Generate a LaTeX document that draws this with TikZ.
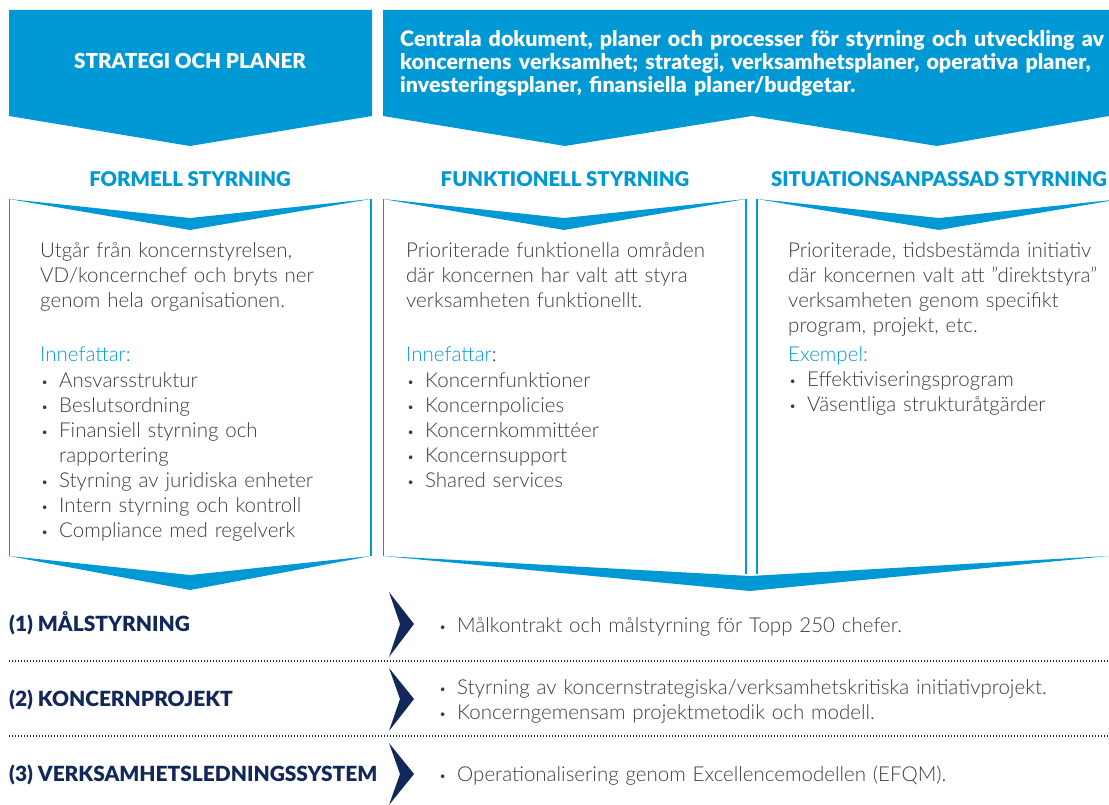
\documentclass[tikz,border=0pt]{standalone}
\usepackage{fontspec}
\setmainfont{Lato}
\newfontfamily\lightfont{Lato Light}
\newfontfamily\heavyfont{Lato Black}
\definecolor{mainblue}{HTML}{0099D5}
\definecolor{darknavy}{HTML}{13285A}
\definecolor{bodygray}{HTML}{3C3C3C}
\newcommand{\blt}{\makebox[19pt][l]{\hspace{1pt}\raisebox{1pt}{\fontsize{12.5}{12}\selectfont\textbullet}}}
\tikzset{
  bandfill/.style={fill=mainblue},
  colline/.style={draw=mainblue, line width=1.5pt},
  banntxt/.style={font=\heavyfont\fontsize{20.6}{23}\selectfont, text=white, inner sep=0pt},
  headtxt/.style={font=\heavyfont\fontsize{20.3}{23}\selectfont, text=mainblue, inner sep=0pt, anchor=base},
  bodytxt/.style={font=\lightfont\fontsize{20.5}{25}\selectfont, text=bodygray, align=left, text width=340pt, anchor=base west, inner sep=0pt},
  rowlbl/.style={font=\heavyfont\fontsize{20.9}{23}\selectfont, text=darknavy, anchor=base west, inner sep=0pt},
  rowtxt/.style={bodytxt, text width=650pt},
  sepline/.style={draw=darknavy, line width=1.2pt, dash pattern=on 1.2pt off 1.8pt},
  arrowfill/.style={fill=darknavy}
}
\begin{document}
\begin{tikzpicture}[x=1pt,y=-1pt]
\useasboundingbox (0,0) rectangle (1109,805);
% top banners
\fill[bandfill] (9,10) -- (372,10) -- (372,116) -- (190,146) -- (9,116) -- cycle;
\fill[bandfill] (383,10) -- (1109,10) -- (1109,116) -- (937,146) -- (752,116) -- (565,146) -- (383,116) -- cycle;
\node[banntxt, anchor=base] (strat) at (190,69) {STRATEGI OCH PLANER};
\node[banntxt, font=\heavyfont\fontsize{21.4}{23}\selectfont, anchor=base west, align=left, text width=720pt] (central) at (400,47) {Centrala dokument, planer och processer för styrning och utveckling av\\ koncernens verksamhet; strategi, verksamhetsplaner, operativa planer,\\ investeringsplaner, finansiella planer/budgetar.};
% column headers
\node[headtxt] (formell) at (190,187) {FORMELL STYRNING};
\node[headtxt] (funk) at (565,187) {FUNKTIONELL STYRNING};
\node[headtxt] (situ) at (939,187) {SITUATIONSANPASSAD STYRNING};
% column frames
\draw[colline] (9.5,199) -- (9.5,556);
\draw[colline] (371,199) -- (371,556);
\draw[colline] (383.5,199) -- (383.5,556);
\draw[colline] (746,199) -- (746,574);
\draw[colline] (757,199) -- (757,574);
\fill[bandfill] (9,199) -- (190,218) -- (371,199) -- (190,230) -- cycle;
\fill[bandfill] (383,199) -- (564,218) -- (746,199) -- (564,230) -- cycle;
\fill[bandfill] (757,199) -- (939,218) -- (1109,200.3) -- (1109,201) -- (939,230) -- cycle;
\fill[bandfill] (9,556) -- (190,575) -- (371,556) -- (190,590) -- cycle;
\fill[bandfill] (383,556) -- (750,576) -- (1109,556) -- (750,591) -- cycle;
% column texts
\node[bodytxt] (formtxt) at (40,258) {Utgår från koncernstyrelsen,\\ VD/koncernchef och bryts ner\\ genom hela organisationen.\\[29pt]
  \textcolor{mainblue}{Innefattar:}\\[1pt]
  \blt Ansvarsstruktur\\ \blt Beslutsordning\\ \blt Finansiell styrning och\\ \hspace*{19pt}rapportering\\
  \blt Styrning av juridiska enheter\\ \blt Intern styrning och kontroll\\ \blt Compliance med regelverk};
\node[bodytxt] (funktxt) at (406,258) {Prioriterade funktionella områden\\ där koncernen har valt att styra\\ verksamheten funktionellt.\\[29pt]
  \textcolor{mainblue}{Innefattar}:\\[1pt]
  \blt Koncernfunktioner\\ \blt Koncernpolicies\\ \blt Koncernkommittéer\\ \blt Koncernsupport\\ \blt Shared services};
\node[bodytxt] (situtxt) at (788,258) {Prioriterade, tidsbestämda initiativ\\ där koncernen valt att ”direktstyra”\\ verksamheten genom specifikt\\ program, projekt, etc.\\[4pt]
  \textcolor{mainblue}{Exempel:}\\
  \blt Effektiviseringsprogram\\ \blt Väsentliga strukturåtgärder};
% bottom rows
\draw[sepline] (9,661) -- (1109,661);
\draw[sepline] (9,736) -- (1109,736);
\fill[arrowfill] (389,592) -- (414,624) -- (389,657) -- (400,624) -- cycle;
\fill[arrowfill] (389,668) -- (414,699) -- (389,731) -- (400,699) -- cycle;
\fill[arrowfill] (389,743) -- (414,774) -- (389,805) -- (400,774) -- cycle;
\node[rowlbl] (mal) at (9,631) {(1) MÅLSTYRNING};
\node[rowlbl] (proj) at (9,706) {(2) KONCERNPROJEKT};
\node[rowlbl] (vls) at (9,781) {(3) VERKSAMHETSLEDNINGSSYSTEM};
\node[rowtxt] (maltxt) at (438,632) {\blt Målkontrakt och målstyrning för Topp 250 chefer.};
\node[rowtxt] (projtxt) at (438,694) {\blt Styrning av koncernstrategiska/verksamhetskritiska initiativprojekt.\\ \blt Koncerngemensam projektmetodik och modell.};
\node[rowtxt] (vlstxt) at (438,781) {\blt Operationalisering genom Excellencemodellen (EFQM).};
\end{tikzpicture}
\end{document}
